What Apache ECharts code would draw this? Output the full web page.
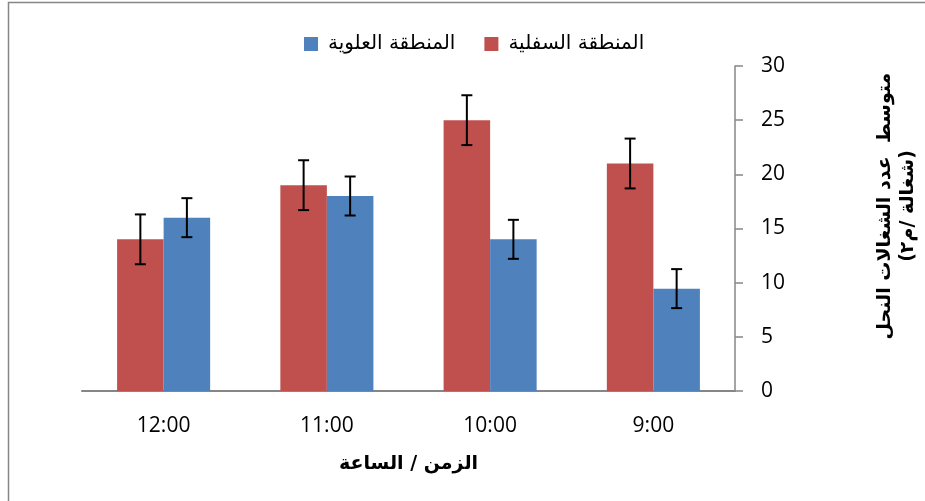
<!DOCTYPE html>
<html>
<head>
<meta charset="utf-8">
<script src="https://cdn.jsdelivr.net/npm/echarts@6/dist/echarts.min.js"></script>
<style>
html,body{margin:0;padding:0;background:#fff;}
#chart{width:925px;height:501px;}
</style>
</head>
<body>
<div id="chart"></div>
<script>
const categories = ['9:00', '10:00', '11:00', '12:00'];
const lowerName = 'المنطقة السفلية';
const upperName = 'المنطقة العلوية';
const lowerValues = [21, 25, 19, 14];
const upperValues = [9.45, 14, 18, 16];
const lowerErrors = [2.3, 2.3, 2.3, 2.3];
const upperErrors = [1.8, 1.8, 1.8, 1.8];
const yTicks = [0, 5, 10, 15, 20, 25, 30];
const xTitle = 'الزمن / الساعة';
const yTitle = 'متوسط  عدد الشغالات النحل\n(شغالة /م٢)';

const CAT_GAP = 0.43;
const arabicFont = '"DejaVu Sans", sans-serif';
const numFont = '"Open Sans", sans-serif';

function errorSeries(name, values, errors, side) {
  return {
    type: 'custom',
    name: name + '-err',
    z: 10,
    silent: true,
    data: values.map((v, i) => [i, v, errors[i]]),
    renderItem: function (params, api) {
      const idx = api.value(0);
      const v = api.value(1);
      const e = api.value(2);
      const band = api.size([1, 0])[0];
      const barW = band * (1 - CAT_GAP) / 2;
      const c = api.coord([idx, v]);
      const x = c[0] + side * barW / 2;
      const top = api.coord([idx, v + e])[1];
      const bot = api.coord([idx, v - e])[1];
      const cap = 5.5;
      const st = { stroke: '#000', lineWidth: 2 };
      return {
        type: 'group',
        children: [
          { type: 'line', shape: { x1: x, y1: top, x2: x, y2: bot }, style: st },
          { type: 'line', shape: { x1: x - cap, y1: top, x2: x + cap, y2: top }, style: st },
          { type: 'line', shape: { x1: x - cap, y1: bot, x2: x + cap, y2: bot }, style: st }
        ]
      };
    }
  };
}

const chart = echarts.init(document.getElementById('chart'));
chart.setOption({
  animation: false,
  backgroundColor: '#fff',
  grid: { left: 82, right: 190, top: 66, bottom: 110 },
  legend: {
    data: [upperName, lowerName],
    left: 299,
    top: 29,
    icon: 'rect',
    itemWidth: 14,
    itemHeight: 14,
    itemGap: 29,
    textStyle: { fontFamily: arabicFont, fontSize: 20, color: '#000', padding: [0, 0, 0, 5] }
  },
  xAxis: {
    type: 'category',
    data: categories,
    inverse: true,
    axisLine: { lineStyle: { color: '#868686', width: 2 } },
    axisTick: { show: false },
    axisLabel: { fontFamily: numFont, fontSize: 21, color: '#000', margin: 25 },
    name: xTitle,
    nameLocation: 'middle',
    nameGap: 64,
    nameTextStyle: { fontFamily: arabicFont, fontSize: 19, fontWeight: 'bold', color: '#000' }
  },
  yAxis: {
    type: 'value',
    position: 'right',
    min: yTicks[0],
    max: yTicks[yTicks.length - 1],
    interval: yTicks[1] - yTicks[0],
    axisLine: { show: true, lineStyle: { color: '#868686', width: 1.5 } },
    axisTick: { show: true, inside: false, length: 8, lineStyle: { color: '#868686', width: 1.5 } },
    splitLine: { show: false },
    axisLabel: { fontFamily: numFont, fontSize: 21, color: '#000', margin: 26 }
  },
  graphic: [
    {
      type: 'rect',
      shape: { x: 8.5, y: 2.5, width: 1000, height: 700 },
      style: { fill: 'none', stroke: '#868686', lineWidth: 1.5 },
      silent: true
    },
    {
      type: 'text',
      x: 897,
      y: 206,
      rotation: Math.PI / 2,
      style: {
        text: yTitle,
        fontFamily: arabicFont,
        fontSize: 19,
        fontWeight: 'bold',
        fill: '#000',
        align: 'center',
        verticalAlign: 'middle',
        lineHeight: 23
      }
    }
  ],
  series: [
    {
      name: lowerName,
      type: 'bar',
      data: lowerValues,
      barGap: '0%',
      barCategoryGap: (CAT_GAP * 100) + '%',
      itemStyle: { color: '#C0504D' }
    },
    {
      name: upperName,
      type: 'bar',
      data: upperValues,
      barGap: '0%',
      barCategoryGap: (CAT_GAP * 100) + '%',
      itemStyle: { color: '#4F81BD' }
    },
    errorSeries(lowerName, lowerValues, lowerErrors, -1),
    errorSeries(upperName, upperValues, upperErrors, 1)
  ]
});
</script>
</body>
</html>
